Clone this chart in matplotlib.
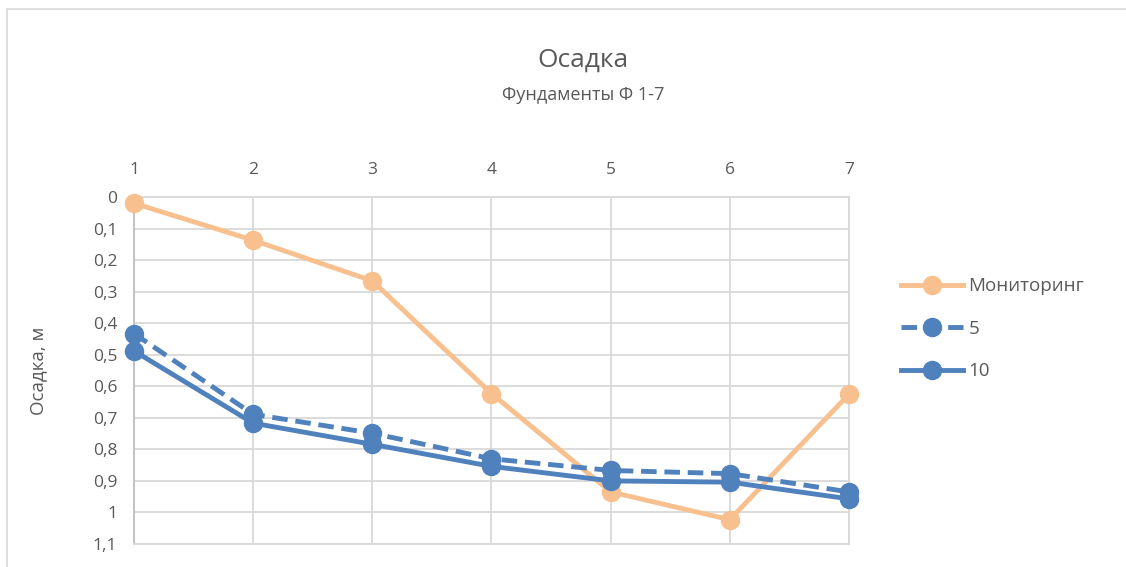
import numpy as np
import matplotlib.pyplot as plt
from matplotlib.ticker import FuncFormatter

plt.rcParams['font.family'] = ['Open Sans', 'DejaVu Sans']

# data
fundaments = [1, 2, 3, 4, 5, 6, 7]
monitoring = [0.02, 0.137, 0.266, 0.623, 0.935, 1.023, 0.625]
calc_5 = [0.433, 0.689, 0.749, 0.830, 0.867, 0.877, 0.935]
calc_10 = [0.488, 0.717, 0.784, 0.854, 0.900, 0.904, 0.957]

orange = '#F8C08E'
blue = '#4F81BD'
grey = '#595959'

fig = plt.figure(figsize=(11.26, 5.67), dpi=100)
ax = fig.add_axes([0.119, 0.0406, 0.635, 0.612])

ax.plot(fundaments, monitoring, color=orange, lw=3.5, marker='o', ms=13,
        label='Мониторинг', clip_on=False, zorder=3)
ax.plot(fundaments, calc_5, color=blue, lw=3.5, ls=(0, (3.2, 1.6)), marker='o', ms=13,
        label='5', clip_on=False, zorder=4)
ax.plot(fundaments, calc_10, color=blue, lw=3.5, marker='o', ms=13,
        label='10', clip_on=False, zorder=4)

ax.set_xlim(1, 7)
ax.set_ylim(1.1, 0)
ax.set_xticks(fundaments)
ax.set_yticks(np.arange(0, 1.11, 0.1))
ax.yaxis.set_major_formatter(FuncFormatter(lambda v, p: ('%g' % round(v, 1)).replace('.', ',')))
ax.xaxis.tick_top()
ax.tick_params(length=0, labelsize=12.5, labelcolor=grey)
ax.tick_params(axis='x', pad=14)
ax.tick_params(axis='y', pad=12)
ax.grid(True, color='#D9D9D9', lw=1.3)
ax.set_axisbelow(True)
for s in ax.spines.values():
    s.set_color('#D9D9D9')
    s.set_linewidth(1.3)
ax.spines['left'].set_color('#BFBFBF')

ax.set_ylabel('Осадка, м', fontsize=13.5, color=grey, labelpad=33)

fig.text(0.518, 0.893, 'Осадка', ha='center', va='center', fontsize=19, color=grey)
fig.text(0.518, 0.833, 'Фундаменты Ф 1-7', ha='center', va='center', fontsize=13, color=grey)

fig.legend(loc='center left', bbox_to_anchor=(0.785, 0.42), frameon=False,
           fontsize=13.5, labelcolor=grey, handlelength=3.3, labelspacing=1.3,
           handletextpad=0.3)

# outer chart border
fig.patches.append(plt.Rectangle((0.006, -0.01), 1.2, 0.995, transform=fig.transFigure,
                                 fill=False, ec='#D9D9D9', lw=1.2))

fig.savefig('out.png', dpi=100)
